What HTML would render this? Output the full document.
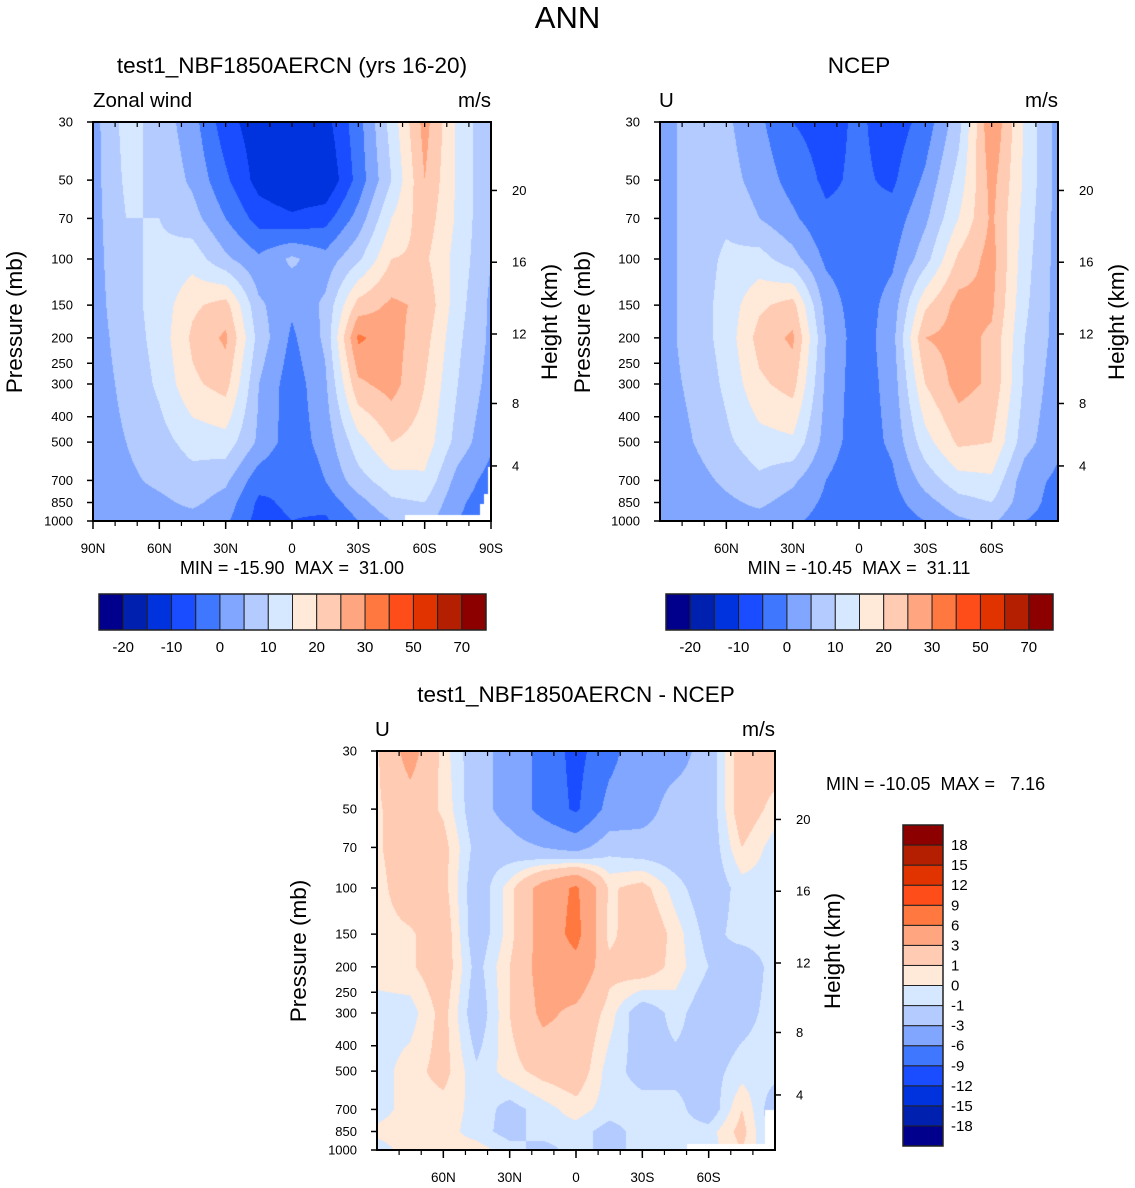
<!DOCTYPE html>
<html><head><meta charset="utf-8"><style>
body{margin:0;background:#fff;width:1135px;height:1188px;position:relative;overflow:hidden;font-family:"Liberation Sans",Arial,sans-serif;}
.t{position:absolute;white-space:nowrap;color:#000;}
canvas{position:absolute;}
svg{position:absolute;left:0;top:0;}
</style></head><body>
<div class="t" style="left:0;width:1135px;text-align:center;top:0;font-size:31px;">ANN</div>
<div class="t" style="left:92px;width:400px;text-align:center;top:53px;font-size:22.5px;">test1_NBF1850AERCN (yrs 16-20)</div>
<div class="t" style="left:659px;width:400px;text-align:center;top:53px;font-size:22.5px;">NCEP</div>
<div class="t" style="left:376px;width:400px;text-align:center;top:682px;font-size:22.5px;">test1_NBF1850AERCN - NCEP</div>
<div class="t" style="left:93px;top:89px;font-size:20.5px;">Zonal wind</div>
<div class="t" style="left:458px;top:89px;font-size:20.5px;">m/s</div>
<div class="t" style="left:659px;top:89px;font-size:20.5px;">U</div>
<div class="t" style="left:1025px;top:89px;font-size:20.5px;">m/s</div>
<div class="t" style="left:375px;top:718px;font-size:20.5px;">U</div>
<div class="t" style="left:742px;top:718px;font-size:20.5px;">m/s</div>
<div class="t" style="left:92px;width:400px;text-align:center;top:558px;font-size:18px;">MIN = -15.90&nbsp; MAX = &nbsp;31.00</div>
<div class="t" style="left:659px;width:400px;text-align:center;top:558px;font-size:18px;">MIN = -10.45&nbsp; MAX = &nbsp;31.11</div>
<div class="t" style="left:826px;top:774px;font-size:18px;">MIN = -10.05&nbsp; MAX = &nbsp; 7.16</div>
<canvas id="c1" width="398" height="399" style="left:93px;top:122px"></canvas>
<canvas id="c2" width="398" height="399" style="left:660px;top:122px"></canvas>
<canvas id="c3" width="398" height="399" style="left:377px;top:751px"></canvas>
<svg id="ov" width="1135" height="1188"></svg>
<script>
// ---- data ----
const lats = ["90N","75N","60N","45N","30N","15N","0","15S","30S","45S","60S","75S","90S"];
const levels = [30,50,70,100,150,200,300,500,700,850,1000];
const modelU = [
[3,12,8,2,-8,-13,-14,-12,-2,12,27,14,5],
[3,11,9,4,-4,-12,-15,-15,-3,10,25,14,5],
[3,10,10,7,0,-7,-9,-7,2,15,23,14,5],
[3,9,11,13,6,1,6,2,9,20,21,13,5],
[3,8,12,19,22,6,1,6,22,26,24,12,4],
[3,7,12,21,26,8,-1,6,31,27,22,11,4],
[3,6,11,19,22,5,-3,4,24,27,20,10,3],
[3,5,8,12,13,4,-3,2,13,20,18,8,1],
[2,4,6,8,6,-3,-5,0,8,13,14,3,-2],
[2,3,4,6,3,-6,-4,-3,3,9,10,1,-3],
[2,2,3,3,1,-7,-5,-6,0,5,7,0,-3]];
const ncepU = [
[3,7,6,1,-5,-7,-4,-8,-3,8,30,14,3],
[3,7,7,3,-2,-6,-4,-6,1,12,27,14,3],
[3,7,9,5,1,-4,-4,-3,4,15,26,13,3],
[3,7,11,12,7,-1,-3,-1,8,21,27,12,3],
[3,7,12,19,22,3,-3,2,19,27,26,11,3],
[3,7,12,22,26,5,-3,3,25,27,24,10,3],
[3,6,11,19,22,4,-3,2,20,27,24,9,2],
[2,5,9,13,14,3,-3,1,13,21,20,7,1],
[2,3,6,9,6,0,-4,-1,7,13,14,2,-1],
[2,2,4,6,3,-1,-3,-2,3,8,10,2,-2],
[2,2,3,3,1,-2,-3,-3,0,4,6,0,-2]];
const diffU = [
[0.8,4,0.5,-2,-4,-7,-10,-7,-4,-4,-2,2,2],
[0.8,2,0.8,-2,-4,-7,-9.5,-5,-4,-2,-2,2,0.5],
[0.8,2,1.5,-1.5,-2,-3,-4,-1.5,-2,-2,-2,1,-0.5],
[0.5,2,1.5,-2,0.5,4,6.5,0.8,1.5,-0.5,-2,-0.5,-0.5],
[0.5,0.8,2,-2,0.5,4,7,0.5,2.5,0.5,-1.5,-0.5,-0.5],
[0.5,0.8,2,-1.5,1,4,5,1.5,2,0.5,-1,-2,-0.5],
[-0.5,-0.5,1.5,-2,1,3.5,2.5,0.5,-2,-0.5,-2,-1.5,-0.5],
[-0.5,0.5,1.5,-0.8,0.5,1.5,2,-0.5,-1.5,-1.5,-1.5,-0.5,-0.5],
[-0.5,0.5,0.5,-0.3,-1.5,-0.5,0.5,-0.5,-0.5,-0.5,-2,1,-2],
[0.3,0.5,0.5,-0.5,-1.5,-0.5,-0.5,-1.5,-0.5,-0.5,-0.5,1.5,-2],
[-0.5,0.5,0.5,0.5,-0.5,-1.5,-0.5,-1.5,-0.5,-0.5,-0.5,1,-1.5]];
const absBounds = [-20,-15,-10,-5,0,5,10,15,20,25,30,40,50,60,70];
const absLabels = ["-20","-10","0","10","20","30","50","70"];
const diffBounds = [-18,-15,-12,-9,-6,-3,-1,0,1,3,6,9,12,15,18];
const diffLabels = ["-18","-15","-12","-9","-6","-3","-1","0","1","3","6","9","12","15","18"];
const pLabels = [30,50,70,100,150,200,250,300,400,500,700,850,1000];
const kmLabels = [4,8,12,16,20];
const colors = ["#00008c","#0020b0","#0033dd","#1a4dff","#4077ff","#80a6ff","#b3cbff","#d6e8ff","#ffe9d9","#ffcbb3","#ffa680","#ff7840","#ff4d1a","#e03300","#b31f00","#8c0000"];

const W=398,H=399,LR=Math.log10(1000/30);
function yOfP(p){return H*Math.log10(p/30)/LR;}
function pOfKm(z){return z<=11?1013.25*Math.pow(1-2.25577e-5*z*1000,5.25588):226.32*Math.exp(-(z-11)*1000/6341.6);}
function band(v,b){let i=0;while(i<b.length&&v>=b[i])i++;return i;}
function hex(c){return [parseInt(c.substr(1,2),16),parseInt(c.substr(3,2),16),parseInt(c.substr(5,2),16)];}
const rgb=colors.map(hex);
const lvY=levels.map(yOfP);
function draw(id,grid,bounds){
  const cv=document.getElementById(id),ctx=cv.getContext('2d');
  const img=ctx.createImageData(W,H);
  for(let py=0;py<H;py++){
    const yy=py+0.5;let r=0;while(r<levels.length-2&&yy>lvY[r+1])r++;
    const ty=Math.min(1,Math.max(0,(yy-lvY[r])/(lvY[r+1]-lvY[r])));
    for(let px=0;px<W;px++){
      const fx=(px+0.5)/W*(lats.length-1);let c=Math.min(lats.length-2,Math.floor(fx));const tx=fx-c;
      const v=(grid[r][c]*(1-tx)+grid[r][c+1]*tx)*(1-ty)+(grid[r+1][c]*(1-tx)+grid[r+1][c+1]*tx)*ty;
      const k=rgb[band(v,bounds)];const o=(py*W+px)*4;
      img.data[o]=k[0];img.data[o+1]=k[1];img.data[o+2]=k[2];img.data[o+3]=255;
    }
  }
  ctx.putImageData(img,0,0);
}
draw('c1',modelU,absBounds);
draw('c2',ncepU,absBounds);
draw('c3',diffU,diffBounds);
(function(){
  let c=document.getElementById('c1').getContext('2d');c.fillStyle='#fff';
  c.fillRect(312,393,86,6);c.fillRect(395,345,3,54);c.fillRect(391,372,7,27);c.fillRect(387,382,11,17);
  c=document.getElementById('c3').getContext('2d');c.fillStyle='#fff';
  c.fillRect(310,393,88,6);c.fillRect(388,359,10,40);
})();

const NS='http://www.w3.org/2000/svg',ov=document.getElementById('ov');
function el(tag,a,txt){const e=document.createElementNS(NS,tag);for(const k in a)e.setAttribute(k,a[k]);if(txt!==undefined)e.textContent=txt;ov.appendChild(e);return e;}
function axes(x0,y0,xl,name){
  const f=el('rect',{x:x0,y:y0,width:W,height:H,fill:'none',stroke:'#000','stroke-width':2});
  
  
  pLabels.forEach(p=>{const y=y0+yOfP(p);
    el('line',{x1:x0-6,x2:x0,y1:y,y2:y,stroke:'#000','stroke-width':1.5});
    const t=el('text',{x:x0-20,y:y+4.5,'text-anchor':'end','font-size':13,'font-family':'Liberation Sans'},String(p));
    
    
  });
  kmLabels.forEach(z=>{const y=y0+yOfP(pOfKm(z));
    el('line',{x1:x0+W,x2:x0+W+6,y1:y,y2:y,stroke:'#000','stroke-width':1.5});
    const t=el('text',{x:x0+W+21,y:y+4.5,'font-size':13,'font-family':'Liberation Sans'},String(z));
    
    
  });
  for(let d=-80;d<=80;d+=10){const x=x0+W*(90-d)/180;
    el('line',{x1:x,x2:x,y1:y0,y2:y0+5,stroke:'#000','stroke-width':1.2});
    el('line',{x1:x,x2:x,y1:y0+H,y2:y0+H+5,stroke:'#000','stroke-width':1.2});}
  xl.forEach(s=>{const d=s==="0"?0:(s.endsWith('N')?+s.slice(0,-1):-s.slice(0,-1));const x=x0+W*(90-d)/180;
    el('line',{x1:x,x2:x,y1:y0+H,y2:y0+H+8,stroke:'#000','stroke-width':1.5});
    const t=el('text',{x:x,y:y0+H+32,'text-anchor':'middle','font-size':13.5,'font-family':'Liberation Sans'},s);
    
    
  });
}
function ylab(x,cy,txt,name){const t=el('text',{x:0,y:0,transform:`translate(${x},${cy}) rotate(-90)`,'text-anchor':'middle','font-size':22.5,'font-family':'Liberation Sans'},txt);
  
  }
axes(93,122,["90N","60N","30N","0","30S","60S","90S"],'model');
axes(660,122,["60N","30N","0","30S","60S"],'ncep');
axes(377,751,["60N","30N","0","30S","60S"],'diff');
ylab(22,322,'Pressure (mb)','model-y-axis-title');ylab(557,322,'Height (km)','model-right-axis-title');
ylab(590,322,'Pressure (mb)','ncep-y-axis-title');ylab(1124,322,'Height (km)','ncep-right-axis-title');
ylab(306,951,'Pressure (mb)','diff-y-axis-title');ylab(840,951,'Height (km)','diff-right-axis-title');
function hbar(x0,name){const bw=387/16;
  colors.forEach((c,i)=>{const r=el('rect',{x:x0+i*bw,y:594,width:bw,height:36,fill:c,stroke:'#222','stroke-width':1});
    
    });
  el('rect',{x:x0,y:594,width:387,height:36,fill:'none',stroke:'#222','stroke-width':1.5});
  absLabels.forEach((s,i)=>{const t=el('text',{x:x0+(1+2*i)*bw,y:652,'text-anchor':'middle','font-size':15,'font-family':'Liberation Sans'},s);
    
    });
}
hbar(99,'model');hbar(666,'ncep');
(function(){const x0=903,y0=825,bh=321/16;
  colors.forEach((c,i)=>{const r=el('rect',{x:x0,y:y0+(15-i)*bh,width:40,height:bh,fill:c,stroke:'#222','stroke-width':1});
    
    });
  el('rect',{x:x0,y:y0,width:40,height:321,fill:'none',stroke:'#222','stroke-width':1.5});
  diffLabels.forEach((s,i)=>{const t=el('text',{x:x0+48,y:y0+(15-i-1)*bh+bh+5,'font-size':15,'font-family':'Liberation Sans'},s);
    
    });
})();
</script>
</body></html>
